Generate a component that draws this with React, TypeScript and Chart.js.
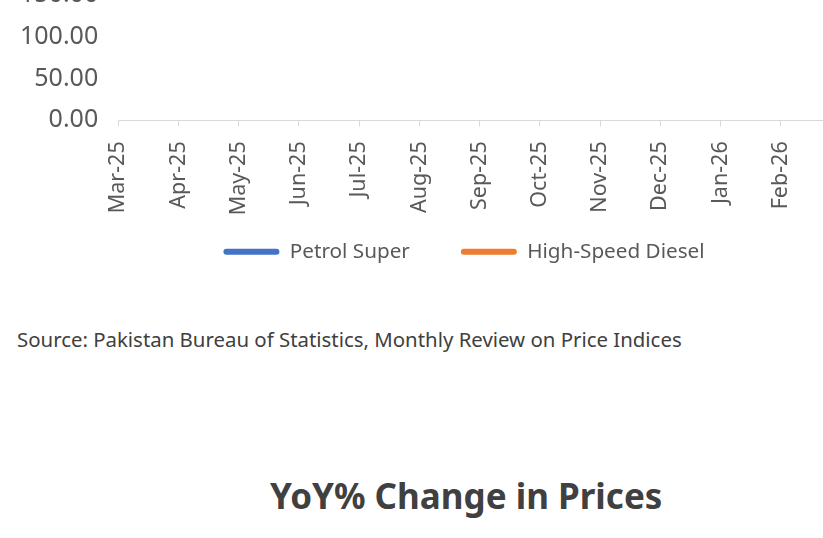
import React, { useEffect, useRef } from "react";
import { Chart, registerables } from "chart.js";

Chart.register(...registerables);

const categories = ["Mar-25", "Apr-25", "May-25", "Jun-25", "Jul-25", "Aug-25", "Sep-25", "Oct-25", "Nov-25", "Dec-25", "Jan-26", "Feb-26"];
const petrolSuper = [255.63, 254.63, 252.63, 253.63, 266.79, 264.61, 264.61, 265.45, 263.02, 263.45, 253.17, 258.17];
const highSpeedDiesel = [258.64, 256.64, 254.64, 256.64, 272.98, 272.77, 272.77, 275.41, 275.41, 278.44, 257.08, 261.2];
const yTicks = [0, 50, 100, 150, 200, 250, 300];

const FONT = "'Noto Sans', 'Open Sans', sans-serif";
const TEXT = "#595959";

export default function App() {
  const ref = useRef<HTMLCanvasElement | null>(null);
  useEffect(() => {
    if (!ref.current) return;
    const chart = new Chart(ref.current, {
      type: "line",
      data: {
        datasets: [
          {
            label: "Petrol Super",
            data: petrolSuper.map((v, i) => ({ x: i, y: v })),
            borderColor: "#4472C4",
            backgroundColor: "#4472C4",
            borderWidth: 3,
            pointRadius: 0,
          },
          {
            label: "High-Speed Diesel",
            data: highSpeedDiesel.map((v, i) => ({ x: i, y: v })),
            borderColor: "#ED7D31",
            backgroundColor: "#ED7D31",
            borderWidth: 3,
            pointRadius: 0,
          },
        ],
      },
      options: {
        animation: false,
        responsive: false,
        maintainAspectRatio: false,
        layout: { padding: { top: 20, left: 0, right: 4, bottom: 0 } },
        scales: {
          x: {
            type: "linear",
            min: 0,
            max: 13.443,
            afterBuildTicks: (scale: any) => {
              scale.ticks = categories.map((_, i) => ({ value: i }));
            },
            afterFit: (scale: any) => {
              scale.height = 110;
            },
            ticks: {
              autoSkip: false,
              maxRotation: 90,
              minRotation: 90,
              padding: 15,
              color: TEXT,
              font: { family: FONT, size: 21.5 },
              callback: (v: any) => categories[Number(v)] ?? "",
            },
            grid: {
              drawOnChartArea: false,
              drawTicks: true,
              tickLength: 6,
              color: "#d9d9d9",
            },
            border: { display: true, color: "#d9d9d9", width: 1 },
          },
          y: {
            min: 0,
            max: 300,
            afterBuildTicks: (scale: any) => {
              scale.ticks = yTicks.map((v) => ({ value: v }));
            },
            ticks: {
              padding: 20,
              color: TEXT,
              font: { family: FONT, size: 25 },
              callback: (v: any) => Number(v).toFixed(2),
            },
            grid: { display: false, drawTicks: false },
            border: { display: false },
          },
        },
        plugins: {
          tooltip: { enabled: false },
          legend: {
            position: "bottom",
            title: { display: true, text: "", font: { size: 1 }, padding: { top: -41.2, bottom: 0 } },
            labels: {
              boxWidth: 56,
              boxHeight: 6,
              padding: 51,
              color: TEXT,
              font: { family: FONT, size: 20.7 },
              generateLabels: (c: any) =>
                Chart.defaults.plugins.legend.labels
                  .generateLabels(c)
                  .map((it: any) => ({ ...it, lineWidth: 0, borderRadius: 3 })),
              useBorderRadius: true,
              borderRadius: 3,
            },
          },
        },
      },
    });
    return () => chart.destroy();
  }, []);

  return (
    <div style={{ position: "absolute", left: 0, top: 0, width: 823, height: 538, overflow: "hidden", background: "#fff" }}>
      <div style={{ position: "absolute", left: 0, top: -166, width: 932, height: 438 }}>
        <canvas ref={ref} width={932} height={438} style={{ display: "block" }} />
      </div>
      <div
        style={{
          position: "absolute",
          left: 17,
          top: 326,
          fontFamily: FONT,
          fontSize: 20.4,
          lineHeight: "26px",
          color: "#404040",
          whiteSpace: "nowrap",
        }}
      >
        Source: Pakistan Bureau of Statistics, Monthly Review on Price Indices
      </div>
      <div
        style={{
          position: "absolute",
          left: 270,
          top: 472,
          fontFamily: FONT,
          fontSize: 35,
          fontWeight: 700,
          lineHeight: "48px",
          color: "#404040",
          whiteSpace: "nowrap",
        }}
      >
        YoY% Change in Prices
      </div>
    </div>
  );
}
